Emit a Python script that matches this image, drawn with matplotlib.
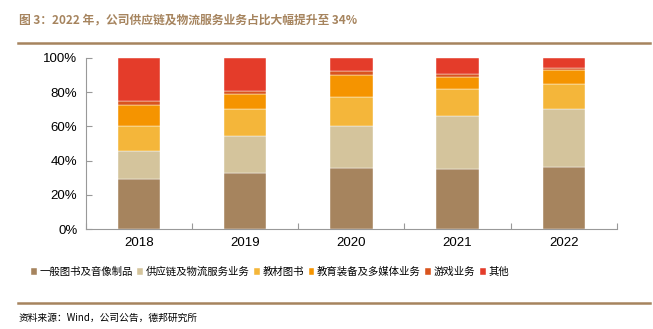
import matplotlib
matplotlib.use("Agg")
import matplotlib.pyplot as plt
import numpy as np

plt.rcParams['font.family'] = ['Liberation Sans', 'Noto Sans CJK SC', 'DejaVu Sans']

years = ['2018', '2019', '2020', '2021', '2022']
series_names = ['一般图书及音像制品', '供应链及物流服务业务', '教材图书', '教育装备及多媒体业务', '游戏业务', '其他']
general_books = [29.4, 32.9, 35.4, 35.0, 36.2]
supply_chain = [16.1, 21.2, 25.1, 31.0, 33.8]
textbooks = [14.6, 16.1, 16.9, 15.9, 14.8]
edu_equipment = [12.7, 8.6, 12.9, 6.8, 8.4]
games = [2.3, 1.7, 1.9, 1.8, 1.0]
others = [24.9, 19.5, 7.8, 9.5, 5.8]
colors = ['#A6845E', '#D4C49C', '#F4B63A', '#F59400', '#D9541E', '#E43C2A']

data = [general_books, supply_chain, textbooks, edu_equipment, games, others]

fig = plt.figure(figsize=(6.53, 3.29), dpi=100)
ax = fig.add_axes([85.7/653, 1-229/329, (617-85.7)/653, 171/329])

x = np.arange(len(years))
bottom = np.zeros(len(years))
for name, vals, c in zip(series_names, data, colors):
    ax.bar(x, vals, 0.4, bottom=bottom, color=c, label=name, edgecolor='white', linewidth=0.3)
    bottom += np.array(vals)

ax.set_xlim(-0.5, 4.5)
ax.set_ylim(0, 100)
ax.set_yticks(np.arange(0, 101, 20))
ax.set_yticklabels([f'{v}%' for v in range(0, 101, 20)], fontsize=9.5)
ax.set_xticks(np.arange(-0.5, 4.6, 1.0))
ax.set_xticklabels([])
ax.set_xticks(x, minor=True)
ax.set_xticklabels(years, minor=True, fontsize=9.5)
ax.tick_params(axis='x', which='minor', length=0, pad=6)
ax.tick_params(axis='x', which='major', direction='in', length=4, color='#999999')
ax.tick_params(axis='y', direction='in', length=4, color='#999999', pad=6)
for s in ['top', 'right']:
    ax.spines[s].set_visible(False)
for s in ['left', 'bottom']:
    ax.spines[s].set_color('#999999')
    ax.spines[s].set_linewidth(0.8)

handles, labels = ax.get_legend_handles_labels()
leg = fig.legend(handles, labels, loc='center left', bbox_to_anchor=(31/653, 1-272/329), ncol=6,
                 frameon=False, prop={'family': ['Noto Sans CJK SC'], 'size': 7.5},
                 handlelength=0.55, handleheight=0.55, handletextpad=0.25, columnspacing=0.45,
                 borderaxespad=0, borderpad=0)

fig.text(19/653, 1-20/329, '图 3：2022 年，公司供应链及物流服务业务占比大幅提升至 34%',
         fontsize=8.5, fontweight='bold', color='#A6845E', va='center', ha='left',
         family=['Noto Sans CJK SC'])
fig.add_artist(plt.Line2D([18/653, 650/653], [1-43/329, 1-43/329], color='#A6845E', linewidth=1.8))
fig.add_artist(plt.Line2D([18/653, 650/653], [1-303/329, 1-303/329], color='#A6845E', linewidth=1.8))
fig.text(19/653, 1-318/329, '资料来源：Wind，公司公告，德邦研究所', fontsize=7, color='black',
         va='center', ha='left', family=['Noto Sans CJK SC'])

fig.savefig('out.png', dpi=100)
